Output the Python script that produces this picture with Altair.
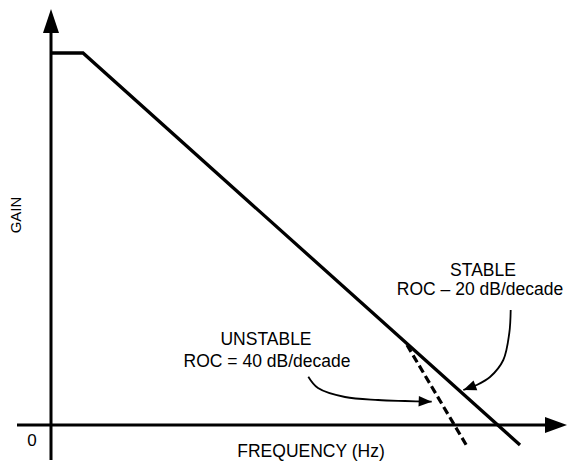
import altair as alt
import pandas as pd

# ---- data (chart units: x = frequency, y = gain; origin at the axes crossing) ----
axis_h_freq = [-3.4, 49.6]
axis_h_gain = [0.0, 0.0]
axis_v_freq = [0.0, 0.0]
axis_v_gain = [-3.5, 39.5]

response_freq = [0.0, 3.2, 46.9]
response_gain = [37.2, 37.2, -2.0]

unstable_freq = [35.6, 41.7]
unstable_gain = [8.0, -2.3]

stable_arrow_freq = [45.97, 45.83, 45.23, 43.9, 42.57, 41.23]
stable_arrow_gain = [11.5, 9.2, 6.5, 4.8, 4.0, 3.5]
unstable_arrow_freq = [25.73, 26.7, 29.4, 32.7, 35.4, 38.07]
unstable_arrow_gain = [4.83, 3.7, 2.8, 2.5, 2.4, 2.33]

y_tip_freq, y_tip_gain = [0.0], [41.6]
x_tip_freq, x_tip_gain = [51.6], [0.0]

label_text = ["STABLE", "ROC \u2013 20 dB/decade", "UNSTABLE", "ROC = 40 dB/decade", "FREQUENCY (Hz)"]
label_freq = [43.2, 42.9, 21.5, 21.6, 26.0]
label_gain = [15.45, 13.5, 8.55, 6.3, -2.7]

zero_text, zero_freq, zero_gain = ["0"], [-1.9], [-1.6]
gain_text, gain_freq, gain_gain = ["GAIN"], [-3.5], [21.0]

# ---- scales ----
X_DOMAIN = [-4.3, 51.6]
Y_DOMAIN = [-3.6, 41.7]
FONT = "Liberation Sans"


def xenc():
    return alt.X("x:Q", scale=alt.Scale(domain=X_DOMAIN, nice=False, zero=False), axis=None)


def yenc():
    return alt.Y("y:Q", scale=alt.Scale(domain=Y_DOMAIN, nice=False, zero=False), axis=None)


def frame(xs, ys, seg="a"):
    return pd.DataFrame({"x": xs, "y": ys, "i": list(range(len(xs))), "seg": seg})


def head(h):
    return f"M0,0L{h},2L-{h},2Z"


axes_df = pd.concat([frame(axis_h_freq, axis_h_gain, "h"), frame(axis_v_freq, axis_v_gain, "v")])
axes = alt.Chart(axes_df).mark_line(color="black", strokeWidth=3).encode(
    x=xenc(), y=yenc(), detail="seg:N", order="i:Q")

response = alt.Chart(frame(response_freq, response_gain)).mark_line(
    color="black", strokeWidth=3.3, strokeJoin="miter").encode(x=xenc(), y=yenc(), order="i:Q")

unstable = alt.Chart(frame(unstable_freq, unstable_gain)).mark_line(
    color="black", strokeWidth=3.2, strokeDash=[8, 4]).encode(x=xenc(), y=yenc(), order="i:Q")

arrows_df = pd.concat([frame(stable_arrow_freq, stable_arrow_gain, "s"),
                       frame(unstable_arrow_freq, unstable_arrow_gain, "u")])
arrows = alt.Chart(arrows_df).mark_line(
    color="black", strokeWidth=1.8, interpolate="catmull-rom").encode(
    x=xenc(), y=yenc(), detail="seg:N", order="i:Q")


def tip(xs, ys, size, angle, h):
    return alt.Chart(frame(xs, ys)).mark_point(
        shape=head(h), filled=True, color="black", opacity=1, size=size, angle=angle,
        strokeWidth=0).encode(x=xenc(), y=yenc())


tip_y = tip(y_tip_freq, y_tip_gain, 576, 0, 0.667)
tip_x = tip(x_tip_freq, x_tip_gain, 484, 90, 0.727)
tip_s = tip([stable_arrow_freq[-1]], [stable_arrow_gain[-1]], 169, 249, 0.8)
tip_u = tip([unstable_arrow_freq[-1]], [unstable_arrow_gain[-1]], 169, 92, 0.8)

labels = alt.Chart(pd.DataFrame({"x": label_freq, "y": label_gain, "t": label_text})).mark_text(
    font=FONT, fontSize=17.5, color="black", align="center", baseline="middle").encode(
    x=xenc(), y=yenc(), text="t:N")

zero = alt.Chart(pd.DataFrame({"x": zero_freq, "y": zero_gain, "t": zero_text})).mark_text(
    font=FONT, fontSize=17, color="black", align="center", baseline="middle").encode(
    x=xenc(), y=yenc(), text="t:N")

gain = alt.Chart(pd.DataFrame({"x": gain_freq, "y": gain_gain, "t": gain_text})).mark_text(
    font=FONT, fontSize=15, color="black", align="center", baseline="middle", angle=270).encode(
    x=xenc(), y=yenc(), text="t:N")

chart = alt.layer(axes, response, unstable, arrows, tip_y, tip_x, tip_s, tip_u,
                  labels, zero, gain).properties(
    width=559, height=453, padding=0,
    autosize=alt.AutoSizeParams(type="none"),
    background="white",
).configure_view(stroke=None)

chart.save("out.html", embed_options={"renderer": "svg", "actions": False})
